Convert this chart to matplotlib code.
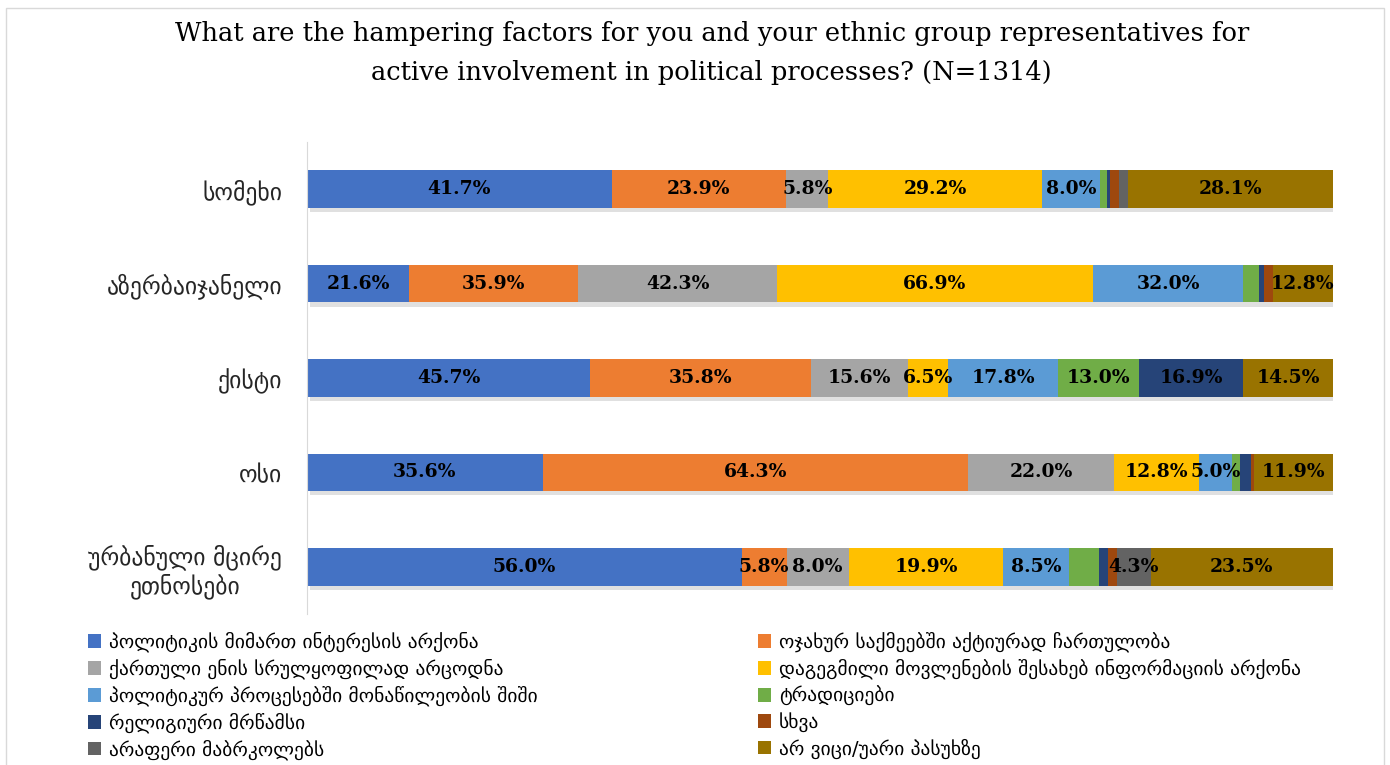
import numpy as np
import matplotlib.pyplot as plt
from matplotlib import patheffects as pe
from matplotlib.patches import Rectangle, Patch

# rows (top to bottom)
groups = ["სომეხი", "აზერბაიჯანელი", "ქისტი", "ოსი", "ურბანული მცირე\nეთნოსები"]

# answer categories (legend order)
factors = [
    "პოლიტიკის მიმართ ინტერესის არქონა",
    "ოჯახურ საქმეებში აქტიურად ჩართულობა",
    "ქართული ენის სრულყოფილად არცოდნა",
    "დაგეგმილი მოვლენების შესახებ ინფორმაციის არქონა",
    "პოლიტიკურ პროცესებში მონაწილეობის შიში",
    "ტრადიციები",
    "რელიგიური მრწამსი",
    "სხვა",
    "არაფერი მაბრკოლებს",
    "არ ვიცი/უარი პასუხზე",
]

# percentages per factor, one value per group (multiple answers, so rows sum > 100)
no_interest = [41.7, 21.6, 45.7, 35.6, 56.0]
family = [23.9, 35.9, 35.8, 64.3, 5.8]
no_georgian = [5.8, 42.3, 15.6, 22.0, 8.0]
no_info = [29.2, 66.9, 6.5, 12.8, 19.9]
fear = [8.0, 32.0, 17.8, 5.0, 8.5]
traditions = [0.9, 3.4, 13.0, 1.2, 3.8]
religion = [0.4, 0.9, 16.9, 1.7, 1.2]
other = [1.3, 1.9, 0.0, 0.5, 1.2]
nothing = [1.2, 0.0, 0.0, 0.0, 4.3]
dont_know = [28.1, 12.8, 14.5, 11.9, 23.5]

colors = ["#4472C4", "#ED7D31", "#A5A5A5", "#FFC000", "#5B9BD5",
          "#70AD47", "#264478", "#9E480E", "#636363", "#997300"]

data = np.array([no_interest, family, no_georgian, no_info, fear,
                 traditions, religion, other, nothing, dont_know])
shares = data / data.sum(axis=0) * 100

fig = plt.figure(figsize=(13.9, 7.65), dpi=100)
ax = fig.add_axes([0.2209, 0.1974, 0.7381, 0.617])

y = np.arange(len(groups))[::-1]
left = np.zeros(len(groups))
shadow = [pe.SimplePatchShadow(offset=(2, -3), alpha=0.12, shadow_rgbFace="k"), pe.Normal()]
for i in range(len(factors)):
    bars = ax.barh(y, shares[i], left=left, height=0.4, color=colors[i],
                   label=factors[i], path_effects=shadow)
    for j, b in enumerate(bars):
        if data[i, j] >= 4.3:
            ax.text(left[j] + shares[i, j] / 2, y[j], f"{data[i, j]:.1f}%",
                    ha="center", va="center", fontsize=13.5, fontweight="bold",
                    family="DejaVu Serif", color="black")
    left += shares[i]

ax.set_xlim(0, 100)
ax.set_ylim(-0.5, len(groups) - 0.5)
ax.set_yticks(y)
ax.set_yticklabels(groups, fontsize=17, family="DejaVu Sans", color="#262626",
                   multialignment="center")
ax.tick_params(axis="y", length=0, pad=18)
ax.set_xticks([])
for s in ["top", "right", "bottom"]:
    ax.spines[s].set_visible(False)
ax.spines["left"].set_color("#D9D9D9")

fig.text(0.512, 0.972,
         "What are the hampering factors for you and your ethnic group representatives for\n"
         "active involvement in political processes? (N=1314)",
         ha="center", va="top", fontsize=18.5, family="DejaVu Serif",
         linespacing=1.7)

# legend in two columns, row-wise order
handles = [Patch(facecolor=c) for c in colors]
for col, x0 in [(0, 0.063), (1, 0.545)]:
    idx = list(range(col, len(factors), 2))
    fig.legend([handles[k] for k in idx], [factors[k] for k in idx],
               loc="upper left", bbox_to_anchor=(x0, 0.174), frameon=False,
               fontsize=14, handlelength=0.7, handleheight=0.7,
               handletextpad=0.4, labelspacing=0.33, borderaxespad=0,
               borderpad=0)

# chart border
fig.patches.append(Rectangle((0.004, -0.01), 0.992, 1.0, transform=fig.transFigure,
                             fill=False, edgecolor="#D9D9D9", lw=1))

fig.savefig("out.png", dpi=100)
